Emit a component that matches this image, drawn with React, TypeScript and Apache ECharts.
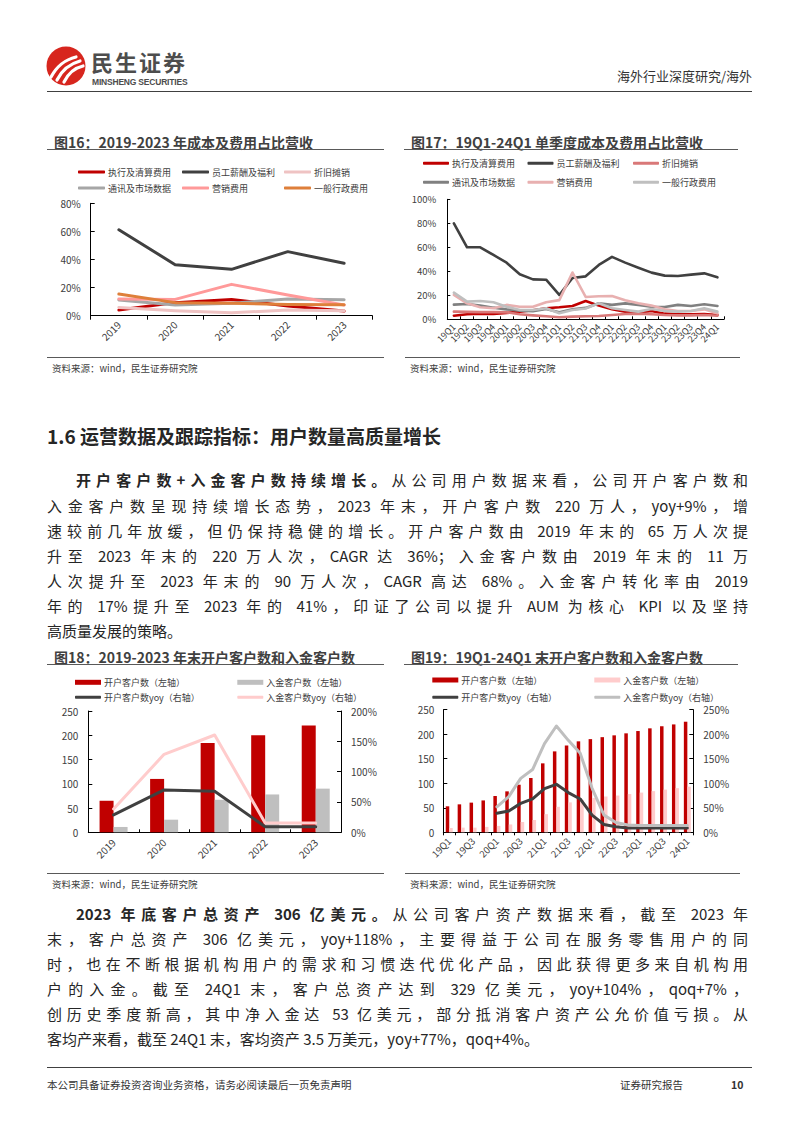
import React, { useEffect, useRef } from "react";
import * as echarts from "echarts";

const FONT = '"Noto Sans CJK SC", "Noto Sans", sans-serif';

// ---------- Figure 16 data ----------
const years16 = ["2019", "2020", "2021", "2022", "2023"];
const names16 = ["执行及清算费用", "员工薪酬及福利", "折旧摊销", "通讯及市场数据", "营销费用", "一般行政费用"];
const colors16 = ["#C00000", "#404040", "#EFC3C3", "#A6A6A6", "#FF9999", "#DE7F3A"];
const exec16 = [4.0, 9.3, 11.6, 6.9, 3.3];
const staff16 = [61.2, 36.3, 33.0, 45.6, 37.3];
const depr16 = [5.9, 3.6, 2.1, 4.0, 3.6];
const comm16 = [11.2, 7.6, 8.8, 11.9, 11.4];
const mkt16 = [11.9, 11.6, 22.3, 14.7, 7.6];
const admin16 = [15.4, 9.3, 8.8, 8.0, 7.8];

// ---------- Figure 17 data ----------
const quarters = ["19Q1", "19Q2", "19Q3", "19Q4", "20Q1", "20Q2", "20Q3", "20Q4", "21Q1", "21Q2", "21Q3", "21Q4", "22Q1", "22Q2", "22Q3", "22Q4", "23Q1", "23Q2", "23Q3", "23Q4", "24Q1"];
const names17 = ["执行及清算费用", "员工薪酬及福利", "折旧摊销", "通讯及市场数据", "营销费用", "一般行政费用"];
const colors17 = ["#C00000", "#404040", "#D97878", "#808080", "#E8B0B0", "#BFBFBF"];
const exec17 = [3.0, 4.2, 4.7, 4.4, 5.3, 6.4, 7.5, 9.2, 10.0, 11.1, 15.3, 11.4, 8.3, 6.4, 5.8, 6.9, 4.7, 4.2, 4.2, 4.4, 3.6];
const staff17 = [80, 60, 60, 53.6, 47.2, 37.5, 33.3, 33, 20.3, 34.4, 35.8, 45.3, 52, 47.2, 43, 38.9, 36.4, 36.1, 37.2, 38.3, 35];
const depr17 = [6.4, 6.2, 6.0, 6.0, 5.8, 4.2, 3.3, 2.5, 1.7, 2.2, 2.5, 2.8, 3.6, 4.4, 4.7, 4.2, 3.6, 3.3, 3.3, 3.6, 3.0];
const comm17 = [12.2, 12.8, 11.4, 9.7, 8.3, 7.2, 6.7, 8.6, 5.8, 8.3, 9.5, 13.3, 12, 13.3, 12, 10.5, 10.3, 12, 11.1, 12.5, 11.1];
const mkt17 = [20.3, 13.3, 10, 9.2, 12, 10.5, 10.5, 14.2, 16, 39, 18.6, 19.2, 19.4, 15.8, 13.3, 11.4, 8.3, 6.9, 6.9, 8.3, 5];
const admin17 = [22.2, 14.7, 15.3, 14.2, 10.5, 7.8, 7.8, 9.2, 5, 7.8, 9, 13.3, 9.2, 7.8, 6.4, 8.6, 6.9, 6.4, 6.9, 9.2, 6.4];

// ---------- Figure 18 data ----------
const years18 = ["2019", "2020", "2021", "2022", "2023"];
const names18 = ["开户客户数（左轴）", "入金客户数（左轴）", "开户客户数yoy（右轴）", "入金客户数yoy（右轴）"];
const open18 = [65, 110, 184, 200, 220];
const funded18 = [11, 26, 67, 78, 90];
const openYoy18 = [28.6, 69.8, 67.6, 9.3, 9.3];
const fundedYoy18 = [38.5, 128.6, 160.4, 15.4, 15.4];

// ---------- Figure 19 data ----------
const names19 = ["开户客户数（左轴）", "入金客户数（左轴）", "开户客户数yoy（右轴）", "入金客户数yoy（右轴）"];
const open19 = [53, 57, 60.5, 65, 74, 83.5, 97, 110.7, 140.6, 165, 177, 185.5, 190, 194, 197.7, 201.8, 206.5, 212, 216, 220, 225.5];
const funded19 = [8.8, 9.5, 9.5, 11, 13, 16, 21, 25, 37, 52, 61, 66, 70, 73, 75, 78, 81, 84, 87, 90, 93];
const openYoy19 = [null, null, null, null, 38.7, 43.5, 59, 68, 89, 97.8, 81, 68, 35, 16, 11.5, 9, 9, 9, 9, 9, 9];
const fundedYoy19 = [null, null, null, null, 52, 72.7, 110, 128, 181, 216.7, 187.5, 161, 89.7, 35, 20, 15, 14, 14, 14, 14, 14];

// ---------- Text ----------
const para1 = [
  "入金客户数呈现持续增长态势，2023 年末，开户客户数 220 万人，yoy+9%，增",
  "速较前几年放缓，但仍保持稳健的增长。开户客户数由 2019 年末的 65 万人次提",
  "升至 2023 年末的 220 万人次，CAGR 达 36%；入金客户数由 2019 年末的 11 万",
  "人次提升至 2023 年末的 90 万人次，CAGR 高达 68%。入金客户转化率由 2019",
  "年的 17%提升至 2023 年的 41%，印证了公司以提升 AUM 为核心 KPI 以及坚持",
];
const para2 = [
  "末，客户总资产 306 亿美元，yoy+118%，主要得益于公司在服务零售用户的同",
  "时，也在不断根据机构用户的需求和习惯迭代优化产品，因此获得更多来自机构用",
  "户的入金。截至 24Q1 末，客户总资产达到 329 亿美元，yoy+104%，qoq+7%，",
  "创历史季度新高，其中净入金达 53 亿美元，部分抵消客户资产公允价值亏损。从",
];

function legendItems(names: string[], lefts: number[], tops: number[], icons: any[]) {
  return names.map((n, i) => ({
    data: [n],
    left: lefts[i % lefts.length],
    top: tops[Math.floor(i / lefts.length)],
    padding: 0,
    itemGap: 0,
    icon: icons[i].icon,
    itemWidth: icons[i].w,
    itemHeight: icons[i].h,
    selectedMode: false,
    textStyle: { fontSize: 9, color: "#404040", lineHeight: 12, fontFamily: FONT, padding: [0, 0, 0, -2] },
  }));
}

const axisLabelStyle = { color: "#404040", fontFamily: FONT };

function lineSeries(name: string, data: any[], color: string, width = 3, yAxisIndex = 0) {
  return {
    type: "line",
    name,
    data,
    yAxisIndex,
    symbol: "none",
    showSymbol: false,
    itemStyle: { color },
    lineStyle: { color, width, cap: "round", join: "round" },
    z: 5,
  };
}

const option16 = {
  animation: false,
  textStyle: { fontFamily: FONT },
  legend: legendItems(names16, [38, 142, 244], [14, 30], names16.map(() => ({ icon: "roundRect", w: 27, h: 3 }))),
  grid: { left: 50.7, top: 51.3, width: 281.6, height: 112.4 },
  xAxis: {
    type: "category",
    data: years16,
    axisLine: { lineStyle: { color: "#000" } },
    axisTick: { show: true, length: 4, lineStyle: { color: "#000" } },
    axisLabel: { ...axisLabelStyle, rotate: 45, fontSize: 10, margin: 7, interval: 0 },
  },
  yAxis: {
    type: "value",
    min: 0,
    max: 80,
    interval: 20,
    axisLine: { show: true, lineStyle: { color: "#000" } },
    axisTick: { show: true, inside: true, length: 4, lineStyle: { color: "#000" } },
    splitLine: { show: false },
    axisLabel: { ...axisLabelStyle, fontSize: 10, margin: 10, formatter: "{value}%" },
  },
  series: [
    lineSeries(names16[0], exec16, colors16[0]),
    lineSeries(names16[1], staff16, colors16[1]),
    lineSeries(names16[2], depr16, colors16[2]),
    lineSeries(names16[3], comm16, colors16[3]),
    lineSeries(names16[4], mkt16, colors16[4]),
    lineSeries(names16[5], admin16, colors16[5]),
  ],
};

const option17 = {
  animation: false,
  textStyle: { fontFamily: FONT },
  legend: legendItems(names17, [18, 122.5, 228], [5.3, 24.3], names17.map(() => ({ icon: "roundRect", w: 26, h: 3 }))),
  grid: { left: 42.3, top: 47.3, width: 276.7, height: 120 },
  xAxis: {
    type: "category",
    data: quarters,
    axisLine: { lineStyle: { color: "#000" } },
    axisTick: { show: true, inside: true, length: 3, lineStyle: { color: "#000" } },
    axisLabel: { ...axisLabelStyle, rotate: 45, fontSize: 9, margin: 6, interval: 0 },
  },
  yAxis: {
    type: "value",
    min: 0,
    max: 100,
    interval: 20,
    axisLine: { show: true, lineStyle: { color: "#000" } },
    axisTick: { show: true, inside: true, length: 3, lineStyle: { color: "#000" } },
    splitLine: { show: false },
    axisLabel: { ...axisLabelStyle, fontSize: 9.5, margin: 11, formatter: "{value}%" },
  },
  series: [
    lineSeries(names17[0], exec17, colors17[0], 2.6),
    lineSeries(names17[1], staff17, colors17[1], 2.6),
    lineSeries(names17[2], depr17, colors17[2], 2.6),
    lineSeries(names17[3], comm17, colors17[3], 2.6),
    lineSeries(names17[4], mkt17, colors17[4], 2.6),
    lineSeries(names17[5], admin17, colors17[5], 2.6),
  ],
};

const barIcon = { icon: "rect", w: 26, h: 5 };
const lineIcon = { icon: "roundRect", w: 26, h: 3 };

const option18 = {
  animation: false,
  textStyle: { fontFamily: FONT },
  legend: legendItems(names18, [35, 197.3], [8.3, 23.3], [barIcon, barIcon, lineIcon, lineIcon]),
  grid: { left: 48.3, top: 43, width: 252.7, height: 121.3 },
  xAxis: {
    type: "category",
    data: years18,
    axisLine: { lineStyle: { color: "#000" } },
    axisTick: { show: true, inside: true, length: 3, lineStyle: { color: "#000" } },
    axisLabel: { ...axisLabelStyle, rotate: 45, fontSize: 10, margin: 8, interval: 0 },
  },
  yAxis: [
    {
      type: "value",
      min: 0,
      max: 250,
      interval: 50,
      axisLine: { show: true, lineStyle: { color: "#000" } },
      axisTick: { show: true, inside: true, length: 4, lineStyle: { color: "#000" } },
      splitLine: { show: false },
      axisLabel: { ...axisLabelStyle, fontSize: 10, margin: 10 },
    },
    {
      type: "value",
      position: "right",
      min: 0,
      max: 200,
      interval: 50,
      axisLine: { show: true, lineStyle: { color: "#000" } },
      axisTick: { show: true, inside: true, length: 4, lineStyle: { color: "#000" } },
      splitLine: { show: false },
      axisLabel: { ...axisLabelStyle, fontSize: 10, margin: 10, formatter: "{value}%" },
    },
  ],
  series: [
    { type: "bar", name: names18[0], data: open18, barWidth: 14, barGap: "0%", itemStyle: { color: "#C00000" } },
    { type: "bar", name: names18[1], data: funded18, barWidth: 14, barGap: "0%", itemStyle: { color: "#BFBFBF" } },
    lineSeries(names18[2], openYoy18, "#404040", 3, 1),
    lineSeries(names18[3], fundedYoy18, "#FFCCCC", 3, 1),
  ],
};

const option19 = {
  animation: false,
  textStyle: { fontFamily: FONT },
  legend: legendItems(names19, [27.3, 189.3], [6, 23.3], [barIcon, barIcon, lineIcon, lineIcon]),
  grid: { left: 38.3, top: 41.7, width: 250, height: 122.6 },
  xAxis: {
    type: "category",
    data: quarters,
    axisLine: { lineStyle: { color: "#000" } },
    axisTick: { show: true, length: 3, interval: 0, lineStyle: { color: "#000" } },
    axisLabel: { ...axisLabelStyle, rotate: 45, fontSize: 9.5, margin: 7, interval: 1 },
  },
  yAxis: [
    {
      type: "value",
      min: 0,
      max: 250,
      interval: 50,
      axisLine: { show: true, lineStyle: { color: "#000" } },
      axisTick: { show: true, inside: true, length: 4, lineStyle: { color: "#000" } },
      splitLine: { show: false },
      axisLabel: { ...axisLabelStyle, fontSize: 10, margin: 9 },
    },
    {
      type: "value",
      position: "right",
      min: 0,
      max: 250,
      interval: 50,
      axisLine: { show: true, lineStyle: { color: "#000" } },
      axisTick: { show: true, inside: true, length: 4, lineStyle: { color: "#000" } },
      splitLine: { show: false },
      axisLabel: { ...axisLabelStyle, fontSize: 10, margin: 10, formatter: "{value}%" },
    },
  ],
  series: [
    { type: "bar", name: names19[0], data: open19, barWidth: 3.5, barGap: "0%", itemStyle: { color: "#C00000" } },
    { type: "bar", name: names19[1], data: funded19, barWidth: 3.5, barGap: "0%", itemStyle: { color: "#FFCCCC" } },
    lineSeries(names19[2], openYoy19, "#404040", 3, 1),
    lineSeries(names19[3], fundedYoy19, "#BFBFBF", 3, 1),
  ],
};

function EChart({ option, style }: { option: any; style: React.CSSProperties }) {
  const ref = useRef<HTMLDivElement>(null);
  useEffect(() => {
    const chart = echarts.init(ref.current!, null, { renderer: "svg" });
    chart.setOption(option);
    return () => chart.dispose();
  }, []);
  return <div ref={ref} style={{ position: "absolute", ...style }} />;
}

const abs = (s: React.CSSProperties): React.CSSProperties => ({ position: "absolute", whiteSpace: "nowrap", ...s });

function Title({ x, y, w, text }: { x: number; y: number; w: number; text: string }) {
  return (
    <>
      <div style={abs({ left: x, top: y - 10, height: 20, lineHeight: "20px", fontSize: 14, fontWeight: 700, color: "#404040" })}>{text}</div>
      <div style={abs({ left: x - 7, top: y + 7, width: w, height: 0, borderTop: "1.5px solid #595959" })} />
    </>
  );
}

function Source({ x, y }: { x: number; y: number }) {
  return <div style={abs({ left: x, top: y - 7, height: 14, lineHeight: "14px", fontSize: 9.5, color: "#404040" })}>资料来源：wind，民生证券研究院</div>;
}

const FS = 15;

function JLine({ y, children, left = 47, width = 701, justify = true }: any) {
  return (
    <div
      style={{
        position: "absolute",
        left,
        top: y - 11,
        width,
        height: 22,
        lineHeight: "22px",
        fontSize: FS,
        color: "#262626",
        textAlign: justify ? "justify" : "left",
        textAlignLast: justify ? "justify" : "auto",
        overflow: "visible",
      } as React.CSSProperties}
    >
      {children}
    </div>
  );
}

export default function App() {
  return (
    <div style={{ position: "absolute", left: 0, top: 0, width: 794, height: 1123, background: "#fff", fontFamily: FONT, overflow: "hidden" }}>
      {/* header */}
      <svg style={{ position: "absolute", left: 46, top: 46 }} width={40} height={40} viewBox="0 0 40 40">
        <circle cx={20} cy={20} r={19.5} fill="#D7261E" />
        <path d="M5 31 C 11 20, 18 14, 30 11" stroke="#fff" strokeWidth={3.2} fill="none" strokeLinecap="round" />
        <path d="M11 34 C 16 24, 23 18, 34 15" stroke="#fff" strokeWidth={3.2} fill="none" strokeLinecap="round" />
        <path d="M18 36 C 22 28, 28 22, 37 20" stroke="#fff" strokeWidth={3.2} fill="none" strokeLinecap="round" />
      </svg>
      <div style={abs({ left: 91, top: 47.5, fontSize: 22, letterSpacing: 2, lineHeight: "26px", height: 26, fontWeight: 700, color: "#4D4D4D" })}>民生证券</div>
      <div style={abs({ left: 92, top: 77, fontSize: 8.5, lineHeight: "10px", height: 10, fontWeight: 700, color: "#4D4D4D", fontFamily: '"Liberation Sans", Arial, sans-serif', letterSpacing: -0.2 })}>MINSHENG SECURITIES</div>
      <div style={abs({ right: 42, top: 67, fontSize: 13, lineHeight: "18px", color: "#333" })}>海外行业深度研究/海外</div>
      <div style={abs({ left: 47, top: 91, width: 705, borderTop: "1px solid #404040" })} />

      {/* figure 16/17 */}
      <Title x={54} y={142} w={337} text="图16：2019-2023 年成本及费用占比营收" />
      <Title x={411} y={142} w={334} text="图17：19Q1-24Q1 单季度成本及费用占比营收" />
      <EChart option={option16} style={{ left: 40, top: 152, width: 350, height: 204 }} />
      <EChart option={option17} style={{ left: 405, top: 152, width: 345, height: 204 }} />
      <div style={abs({ left: 47, top: 357, width: 337, borderTop: "1px solid #595959" })} />
      <div style={abs({ left: 405, top: 357, width: 335, borderTop: "1px solid #595959" })} />
      <Source x={52} y={368} />
      <Source x={410} y={368} />

      {/* section heading */}
      <div style={abs({ left: 47, top: 424, fontSize: 19, lineHeight: "24px", fontWeight: 700, color: "#262626" })}>1.6 运营数据及跟踪指标：用户数量高质量增长</div>

      {/* paragraph 1 */}
      <JLine y={480} left={76} width={672}>
        <b>开户客户数+入金客户数持续增长。</b>从公司用户数据来看，公司开户客户数和
      </JLine>
      {para1.map((t, i) => (
        <JLine key={"p1" + i} y={506 + i * 25}>{t}</JLine>
      ))}
      <JLine y={631} justify={false}>高质量发展的策略。</JLine>

      {/* figure 18/19 */}
      <Title x={54} y={657} w={337} text="图18：2019-2023 年末开户客户数和入金客户数" />
      <Title x={411} y={657} w={334} text="图19：19Q1-24Q1 末开户客户数和入金客户数" />
      <EChart option={option18} style={{ left: 40, top: 668, width: 350, height: 204 }} />
      <EChart option={option19} style={{ left: 405, top: 668, width: 345, height: 204 }} />
      <div style={abs({ left: 47, top: 873, width: 337, borderTop: "1px solid #595959" })} />
      <div style={abs({ left: 405, top: 873, width: 335, borderTop: "1px solid #595959" })} />
      <Source x={52} y={884} />
      <Source x={410} y={884} />

      {/* paragraph 2 */}
      <JLine y={914} left={76} width={672}>
        <b>2023 年底客户总资产 306 亿美元。</b>从公司客户资产数据来看，截至 2023 年
      </JLine>
      {para2.map((t, i) => (
        <JLine key={"p2" + i} y={939 + i * 25}>{t}</JLine>
      ))}
      <JLine y={1039} justify={false}>客均产来看，截至 24Q1 末，客均资产 3.5 万美元，yoy+77%，qoq+4%。</JLine>

      {/* footer */}
      <div style={abs({ left: 47, top: 1067, width: 705, borderTop: "1px solid #404040" })} />
      <div style={abs({ left: 47, top: 1078, fontSize: 10.5, lineHeight: "14px", color: "#333" })}>本公司具备证券投资咨询业务资格，请务必阅读最后一页免责声明</div>
      <div style={abs({ left: 620, top: 1078, fontSize: 10.5, lineHeight: "14px", color: "#333" })}>证券研究报告</div>
      <div style={abs({ left: 731, top: 1078, fontSize: 10.5, lineHeight: "14px", color: "#333", fontWeight: 700 })}>10</div>
    </div>
  );
}
